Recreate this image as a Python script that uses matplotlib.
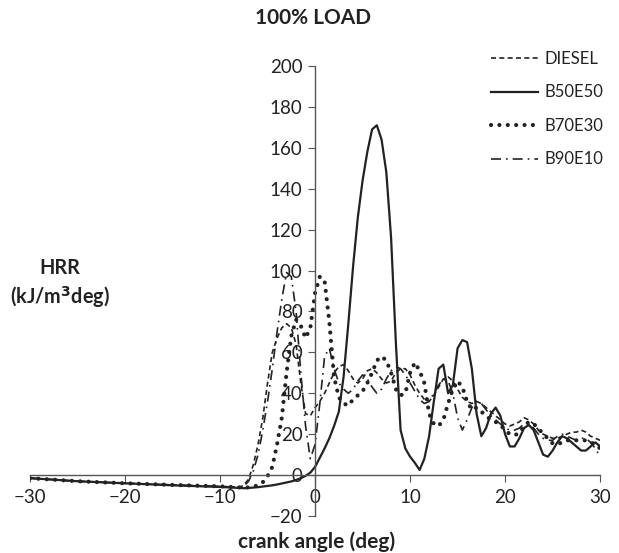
import numpy as np
import matplotlib
matplotlib.use("Agg")
import matplotlib.pyplot as plt

plt.rcParams['font.family'] = ['Lato', 'DejaVu Sans']

# crank angle grid (deg)
crank_angle = np.concatenate([[-30, -25, -20, -15, -10, -8], np.arange(-7.5, 30.01, 0.5)])

diesel = [-1.5, -3, -4, -4.8, -5.5, -6,
          -5, -2, 5, 15, 28, 45, 60, 67, 72, 74,
          72, 64, 45, 30, 29, 33,
          36, 40, 45, 50, 53, 54, 51, 47, 45, 47,
          51, 52, 50, 47, 45, 46, 50, 52, 52, 49,
          44, 40, 37, 36, 39, 43, 47, 48, 46, 42,
          38, 36, 35, 36, 35, 33, 31, 29, 27, 25,
          24, 25, 26, 28, 27, 25, 22, 20, 19, 18,
          18, 19, 20, 21, 21, 22, 21, 19, 18, 17]

b50e50 = [-1.5, -3, -4, -5, -5.8, -6.3,
          -6.4, -6.3, -6.1, -5.9, -5.6, -5.3, -5, -4.6, -4.1, -3.6,
          -3.1, -2.4, -1.5, -0.4, 1.2, 4,
          8.5, 13, 18, 24, 31, 48, 74, 102, 126, 144,
          158, 169, 171, 164, 148, 116, 65, 22, 13, 9,
          6, 2.5, 8, 19, 36, 52, 54, 40, 44, 62,
          66, 65, 52, 30, 19, 23, 30, 33, 29, 20,
          14, 14, 18, 23, 24.5, 22, 16, 10, 9, 12,
          16, 19, 18, 16, 14, 12, 12, 14, 16, 14]

b70e30 = [-1.5, -3, -4, -4.8, -5.5, -6,
          -6.2, -6, -5.6, -5, -3.5, -0.5, 4, 15, 28, 50,
          68, 76, 73, 67, 72, 89,
          97, 95, 75, 48, 38, 35, 34, 37, 39, 41,
          45, 50, 56, 58, 56, 50, 42, 39, 40, 50,
          55, 51, 45, 30, 25, 24, 27, 35, 42, 46,
          43, 36, 32, 33, 31, 29, 27, 26, 24.5, 22,
          20, 19.5, 20.5, 24, 26, 25, 23, 20, 18, 15.5,
          15, 16, 17, 17, 17, 17, 17, 16, 15, 13]

b90e10 = [-1.5, -3, -4, -4.8, -5.5, -6,
          -5.5, -3, 2, 10, 22, 36, 52, 70, 86, 99,
          97, 80, 50, 24, 8, 15,
          35, 58, 62, 52, 45, 42, 40, 42, 46, 49,
          47, 43, 40, 42, 47, 51, 53, 52, 49, 45,
          41, 37, 35, 36, 40, 44, 47, 46, 40, 28,
          22, 27, 33, 36, 35, 32, 29, 27, 25, 23,
          22, 22, 23, 25, 25, 23, 20, 18, 17, 17,
          19, 20, 19, 18, 17, 18, 18, 16, 13, 9]

x_ticks = [-30, -20, -10, 0, 10, 20, 30]
y_ticks = [-20, 0, 20, 40, 60, 80, 100, 120, 140, 160, 180, 200]

ink = '#222222'
fig = plt.figure(figsize=(6.19, 5.53), dpi=100)
ax = fig.add_axes([0.0485, 0.0669, 0.921, 0.8138])

ax.plot(crank_angle, diesel, color=ink, lw=1.2, ls=(0, (3, 2)), label='DIESEL')
ax.plot(crank_angle, b50e50, color=ink, lw=1.6, ls='-', label='B50E50')
ax.plot(crank_angle, b70e30, color=ink, lw=3.0, ls=(0, (0.01, 2)),
        dash_capstyle='round', label='B70E30')
ax.plot(crank_angle, b90e10, color=ink, lw=1.2, ls=(0, (6, 3, 1, 3)), label='B90E10')

ax.set_xlim(-30, 30)
ax.set_ylim(-20, 200)
ax.set_xticks(x_ticks)
ax.set_yticks(y_ticks)

ax.spines['top'].set_visible(False)
ax.spines['right'].set_visible(False)
ax.spines['left'].set_position(('data', 0))
ax.spines['bottom'].set_position(('data', 0))
for s in ('left', 'bottom'):
    ax.spines[s].set_color('#555555')
    ax.spines[s].set_linewidth(1.0)
ax.tick_params(axis='both', direction='out', length=5, color='#555555',
               labelsize=13.5, labelcolor=ink)
ax.tick_params(axis='x', pad=5)
ax.tick_params(axis='y', pad=4)

fig.text(0.505, 0.967, '100% LOAD', ha='center', va='center',
         fontsize=15, fontweight='bold', color=ink)
fig.text(0.097, 0.515, 'HRR', ha='center', va='center',
         fontsize=14.3, fontweight='bold', color=ink)
fig.text(0.097, 0.462, '(kJ/m$^\\mathbf{3}$deg)', ha='center', va='center',
         fontsize=14.3, fontweight='bold', color=ink)
fig.text(0.512, 0.02, 'crank angle (deg)', ha='center', va='center',
         fontsize=15, fontweight='bold', color=ink)

fig.legend(loc='upper left', bbox_to_anchor=(0.793, 0.908), frameon=False,
           fontsize=12, handlelength=2.8, handletextpad=0.4, labelspacing=1.05,
           borderpad=0, borderaxespad=0, labelcolor=ink)

fig.savefig('out.png', dpi=100)
